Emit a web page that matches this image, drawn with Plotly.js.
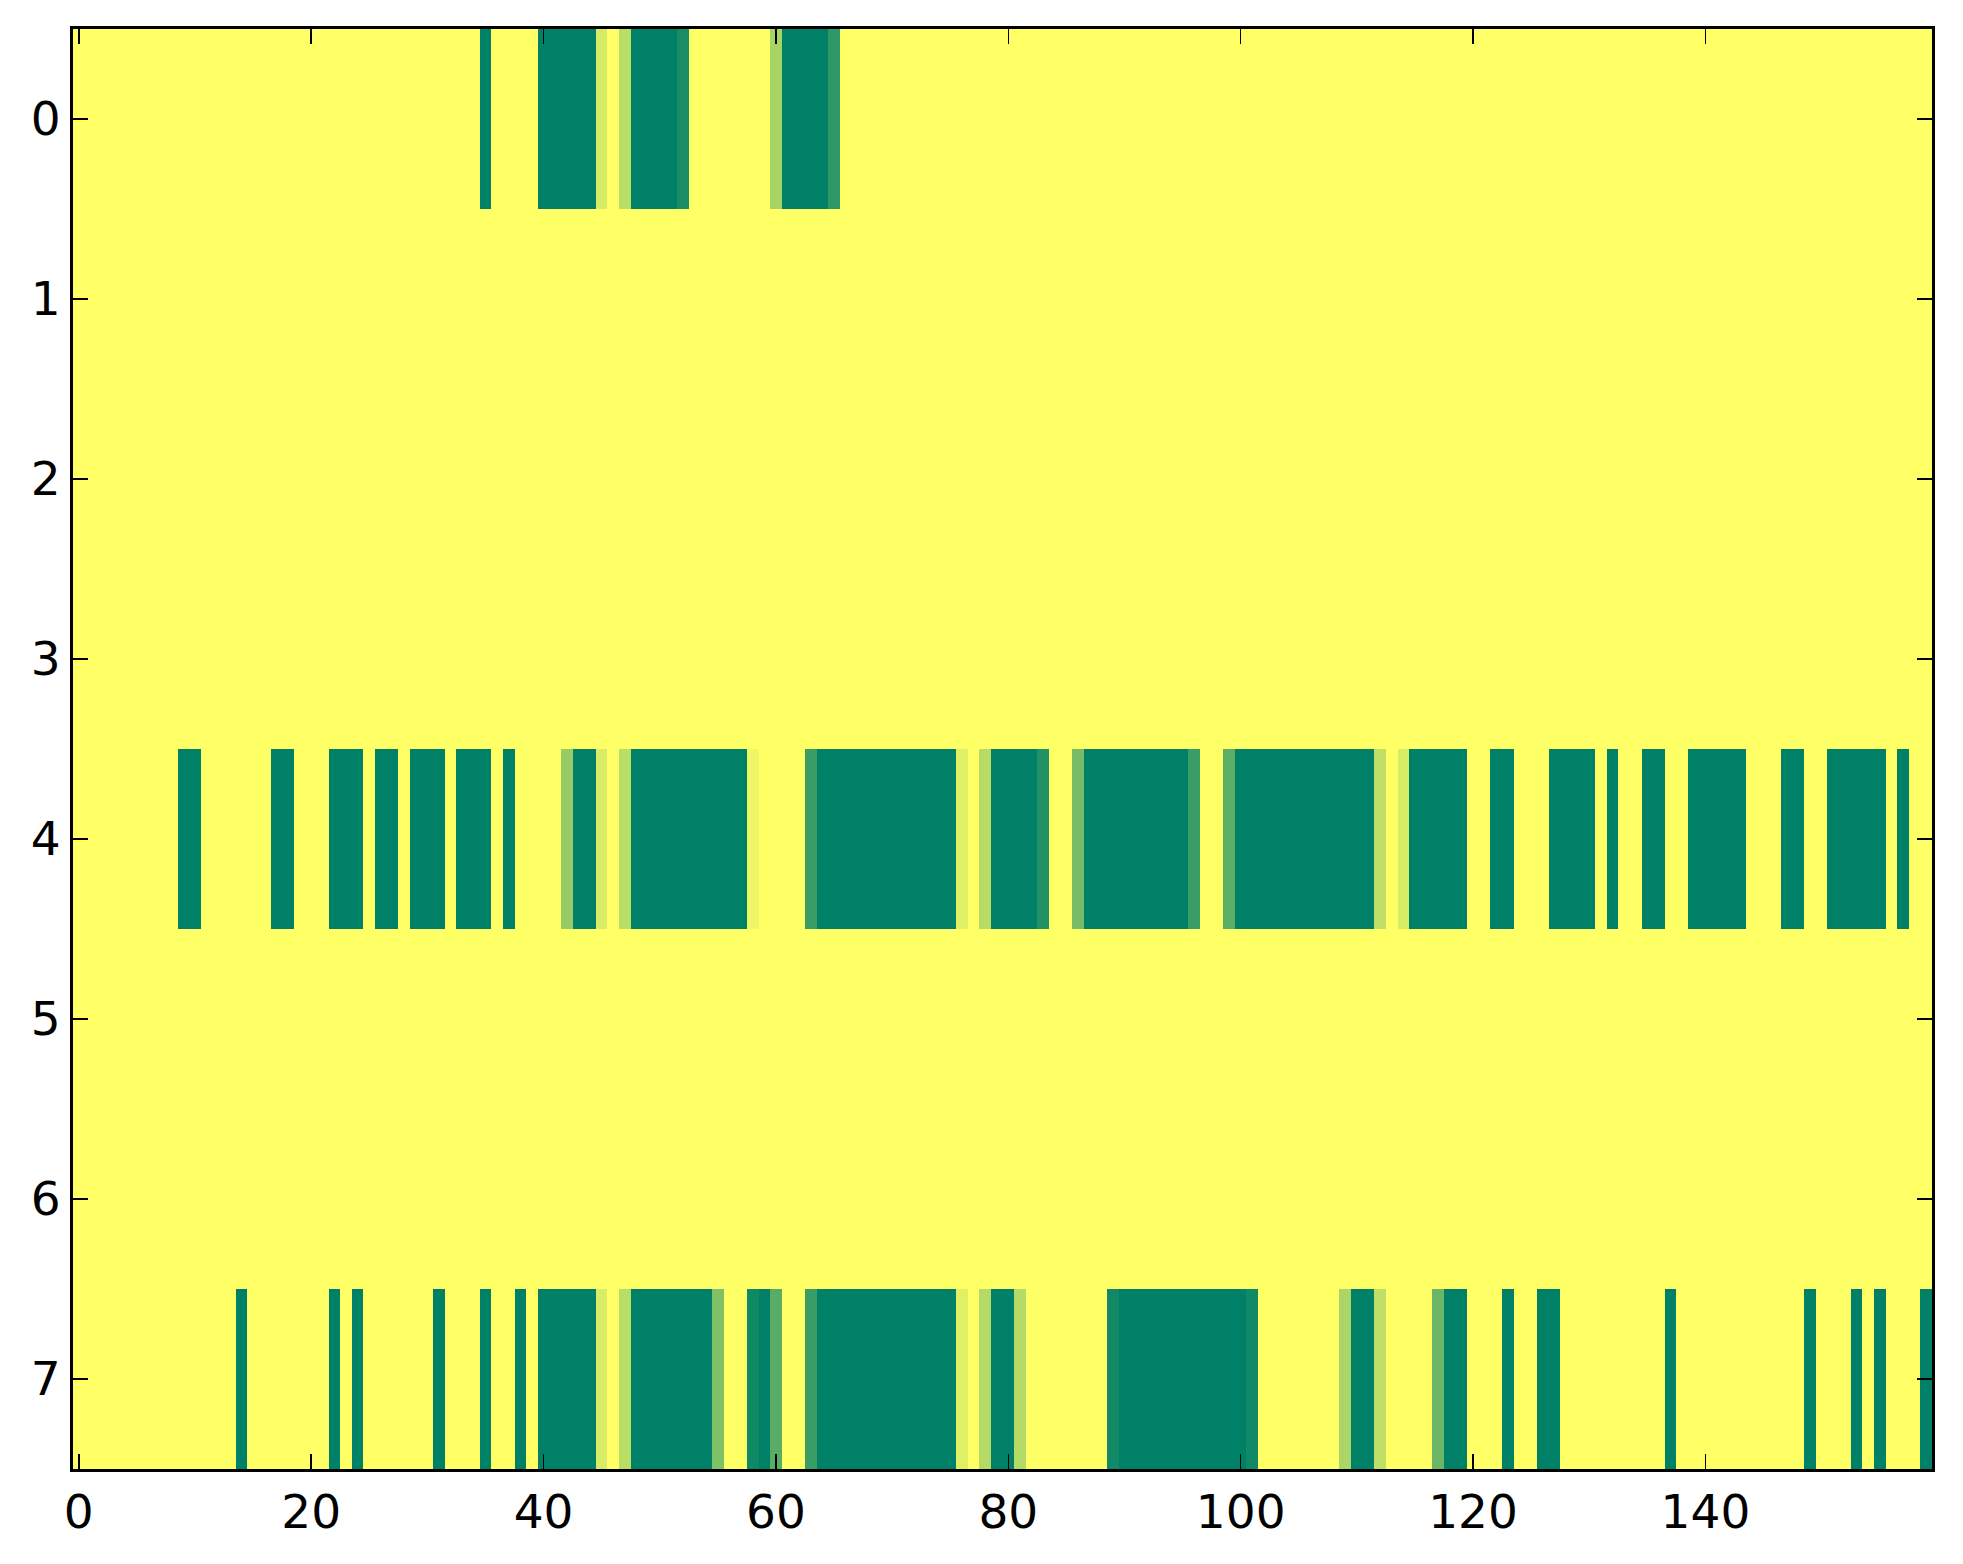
<!DOCTYPE html>
<html>
<head>
<meta charset="utf-8">
<script src="https://cdn.plot.ly/plotly-3.0.1.min.js"></script>
<style>html,body{margin:0;padding:0;background:#fff;}#chart{width:1963px;height:1564px;}</style>
</head>
<body>
<div id="chart"></div>
<script>
const row0 = [
0,0,0,0,0, 0,0,0,0,0, 0,0,0,0,0, 0,0,0,0,0,
0,0,0,0,0, 0,0,0,0,0, 0,0,0,0,0, 1,0,0,0,0,
1,1,1,1,1, 0.16,0,0.27,1,1, 1,1,0.9,0,0, 0,0,0,0,0,
0.34,1,1,1,1, 0.82,0,0,0,0, 0,0,0,0,0, 0,0,0,0,0,
0,0,0,0,0, 0,0,0,0,0, 0,0,0,0,0, 0,0,0,0,0,
0,0,0,0,0, 0,0,0,0,0, 0,0,0,0,0, 0,0,0,0,0,
0,0,0,0,0, 0,0,0,0,0, 0,0,0,0,0, 0,0,0,0,0,
0,0,0,0,0, 0,0,0,0,0, 0,0,0,0,0, 0,0,0,0,0
];
const row1 = [
0,0,0,0,0, 0,0,0,0,0, 0,0,0,0,0, 0,0,0,0,0,
0,0,0,0,0, 0,0,0,0,0, 0,0,0,0,0, 0,0,0,0,0,
0,0,0,0,0, 0,0,0,0,0, 0,0,0,0,0, 0,0,0,0,0,
0,0,0,0,0, 0,0,0,0,0, 0,0,0,0,0, 0,0,0,0,0,
0,0,0,0,0, 0,0,0,0,0, 0,0,0,0,0, 0,0,0,0,0,
0,0,0,0,0, 0,0,0,0,0, 0,0,0,0,0, 0,0,0,0,0,
0,0,0,0,0, 0,0,0,0,0, 0,0,0,0,0, 0,0,0,0,0,
0,0,0,0,0, 0,0,0,0,0, 0,0,0,0,0, 0,0,0,0,0
];
const row2 = [
0,0,0,0,0, 0,0,0,0,0, 0,0,0,0,0, 0,0,0,0,0,
0,0,0,0,0, 0,0,0,0,0, 0,0,0,0,0, 0,0,0,0,0,
0,0,0,0,0, 0,0,0,0,0, 0,0,0,0,0, 0,0,0,0,0,
0,0,0,0,0, 0,0,0,0,0, 0,0,0,0,0, 0,0,0,0,0,
0,0,0,0,0, 0,0,0,0,0, 0,0,0,0,0, 0,0,0,0,0,
0,0,0,0,0, 0,0,0,0,0, 0,0,0,0,0, 0,0,0,0,0,
0,0,0,0,0, 0,0,0,0,0, 0,0,0,0,0, 0,0,0,0,0,
0,0,0,0,0, 0,0,0,0,0, 0,0,0,0,0, 0,0,0,0,0
];
const row3 = [
0,0,0,0,0, 0,0,0,0,0, 0,0,0,0,0, 0,0,0,0,0,
0,0,0,0,0, 0,0,0,0,0, 0,0,0,0,0, 0,0,0,0,0,
0,0,0,0,0, 0,0,0,0,0, 0,0,0,0,0, 0,0,0,0,0,
0,0,0,0,0, 0,0,0,0,0, 0,0,0,0,0, 0,0,0,0,0,
0,0,0,0,0, 0,0,0,0,0, 0,0,0,0,0, 0,0,0,0,0,
0,0,0,0,0, 0,0,0,0,0, 0,0,0,0,0, 0,0,0,0,0,
0,0,0,0,0, 0,0,0,0,0, 0,0,0,0,0, 0,0,0,0,0,
0,0,0,0,0, 0,0,0,0,0, 0,0,0,0,0, 0,0,0,0,0
];
const row4 = [
0,0,0,0,0, 0,0,0,0,1, 1,0,0,0,0, 0,0,1,1,0,
0,0,1,1,1, 0,1,1,0,1, 1,1,0,1,1, 1,0,1,0,0,
0,0,0.41,1,1, 0.15,0,0.27,1,1, 1,1,1,1,1, 1,1,1,0.06,0,
0,0,0,0.77,1, 1,1,1,1,1, 1,1,1,1,1, 1,0.12,0,0.28,1,
1,1,1,0.87,0, 0,0.53,1,1,1, 1,1,1,1,1, 1,0.77,0,0,0.64,
1,1,1,1,1, 1,1,1,1,1, 1,1,0.25,0,0.15, 1,1,1,1,1,
0,0,1,1,0, 0,0,1,1,1, 1,0,1,0,0, 1,1,0,0,1,
1,1,1,1,0, 0,0,1,1,0, 0,1,1,1,1, 1,0,1,0,0
];
const row5 = [
0,0,0,0,0, 0,0,0,0,0, 0,0,0,0,0, 0,0,0,0,0,
0,0,0,0,0, 0,0,0,0,0, 0,0,0,0,0, 0,0,0,0,0,
0,0,0,0,0, 0,0,0,0,0, 0,0,0,0,0, 0,0,0,0,0,
0,0,0,0,0, 0,0,0,0,0, 0,0,0,0,0, 0,0,0,0,0,
0,0,0,0,0, 0,0,0,0,0, 0,0,0,0,0, 0,0,0,0,0,
0,0,0,0,0, 0,0,0,0,0, 0,0,0,0,0, 0,0,0,0,0,
0,0,0,0,0, 0,0,0,0,0, 0,0,0,0,0, 0,0,0,0,0,
0,0,0,0,0, 0,0,0,0,0, 0,0,0,0,0, 0,0,0,0,0
];
const row6 = [
0,0,0,0,0, 0,0,0,0,0, 0,0,0,0,0, 0,0,0,0,0,
0,0,0,0,0, 0,0,0,0,0, 0,0,0,0,0, 0,0,0,0,0,
0,0,0,0,0, 0,0,0,0,0, 0,0,0,0,0, 0,0,0,0,0,
0,0,0,0,0, 0,0,0,0,0, 0,0,0,0,0, 0,0,0,0,0,
0,0,0,0,0, 0,0,0,0,0, 0,0,0,0,0, 0,0,0,0,0,
0,0,0,0,0, 0,0,0,0,0, 0,0,0,0,0, 0,0,0,0,0,
0,0,0,0,0, 0,0,0,0,0, 0,0,0,0,0, 0,0,0,0,0,
0,0,0,0,0, 0,0,0,0,0, 0,0,0,0,0, 0,0,0,0,0
];
const row7 = [
0,0,0,0,0, 0,0,0,0,0, 0,0,0,0,1, 0,0,0,0,0,
0,0,1,0,1, 0,0,0,0,0, 0,1,0,0,0, 1,0,0,1,0,
1,1,1,1,1, 0.15,0,0.27,1,1, 1,1,1,1,1, 0.5,0,0,0.94,1,
0.65,0,0,0.77,1, 1,1,1,1,1, 1,1,1,1,1, 1,0.12,0,0.29,1,
1,0.29,0,0,0, 0,0,0,0,0.93, 1,1,1,1,1, 1,1,1,1,1,
1,0.93,0,0,0, 0,0,0,0,0.33, 1,1,0.25,0,0, 0,0,0.58,1,1,
0,0,0,1,0, 0,1,1,0,0, 0,0,0,0,0, 0,0,1,0,0,
0,0,0,0,0, 0,0,0,0,1, 0,0,0,1,0, 1,0,0,0,1
];
const rowLabels = [0,1,2,3,4,5,6,7];
const xTickVals = [0,20,40,60,80,100,120,140];
const xTickText = ['0','20','40','60','80','100','120','140'];

const z = [row0,row1,row2,row3,row4,row5,row6,row7];

const trace = {
  type: 'heatmap',
  z: z,
  y: rowLabels,
  x0: 0, dx: 1,
  zmin: 0, zmax: 1,
  colorscale: [[0,'rgb(255,255,102)'],[1,'rgb(0,128,102)']],
  showscale: false,
  hoverinfo: 'skip'
};

const axisCommon = {
  showline: true, linecolor: '#000', linewidth: 3, mirror: 'ticks',
  ticks: 'inside', ticklen: 15, tickwidth: 1.5, tickcolor: '#000',
  showgrid: false, zeroline: false,
  tickfont: {family: 'DejaVu Sans', size: 47, color: '#000'}
};

const layout = {
  width: 1963, height: 1564,
  margin: {l: 73, r: 31, t: 29, b: 95, pad: 0},
  paper_bgcolor: '#fff', plot_bgcolor: '#fff',
  xaxis: Object.assign({}, axisCommon, {
    range: [-0.5, 159.5], tickmode: 'array', tickvals: xTickVals, ticktext: xTickText
  }),
  yaxis: Object.assign({}, axisCommon, {
    range: [7.5, -0.5], tickmode: 'array', tickvals: rowLabels, ticktext: rowLabels.map(String)
  }),
  showlegend: false
};

Plotly.newPlot('chart', [trace], layout, {displayModeBar: false, staticPlot: true});
</script>
</body>
</html>
